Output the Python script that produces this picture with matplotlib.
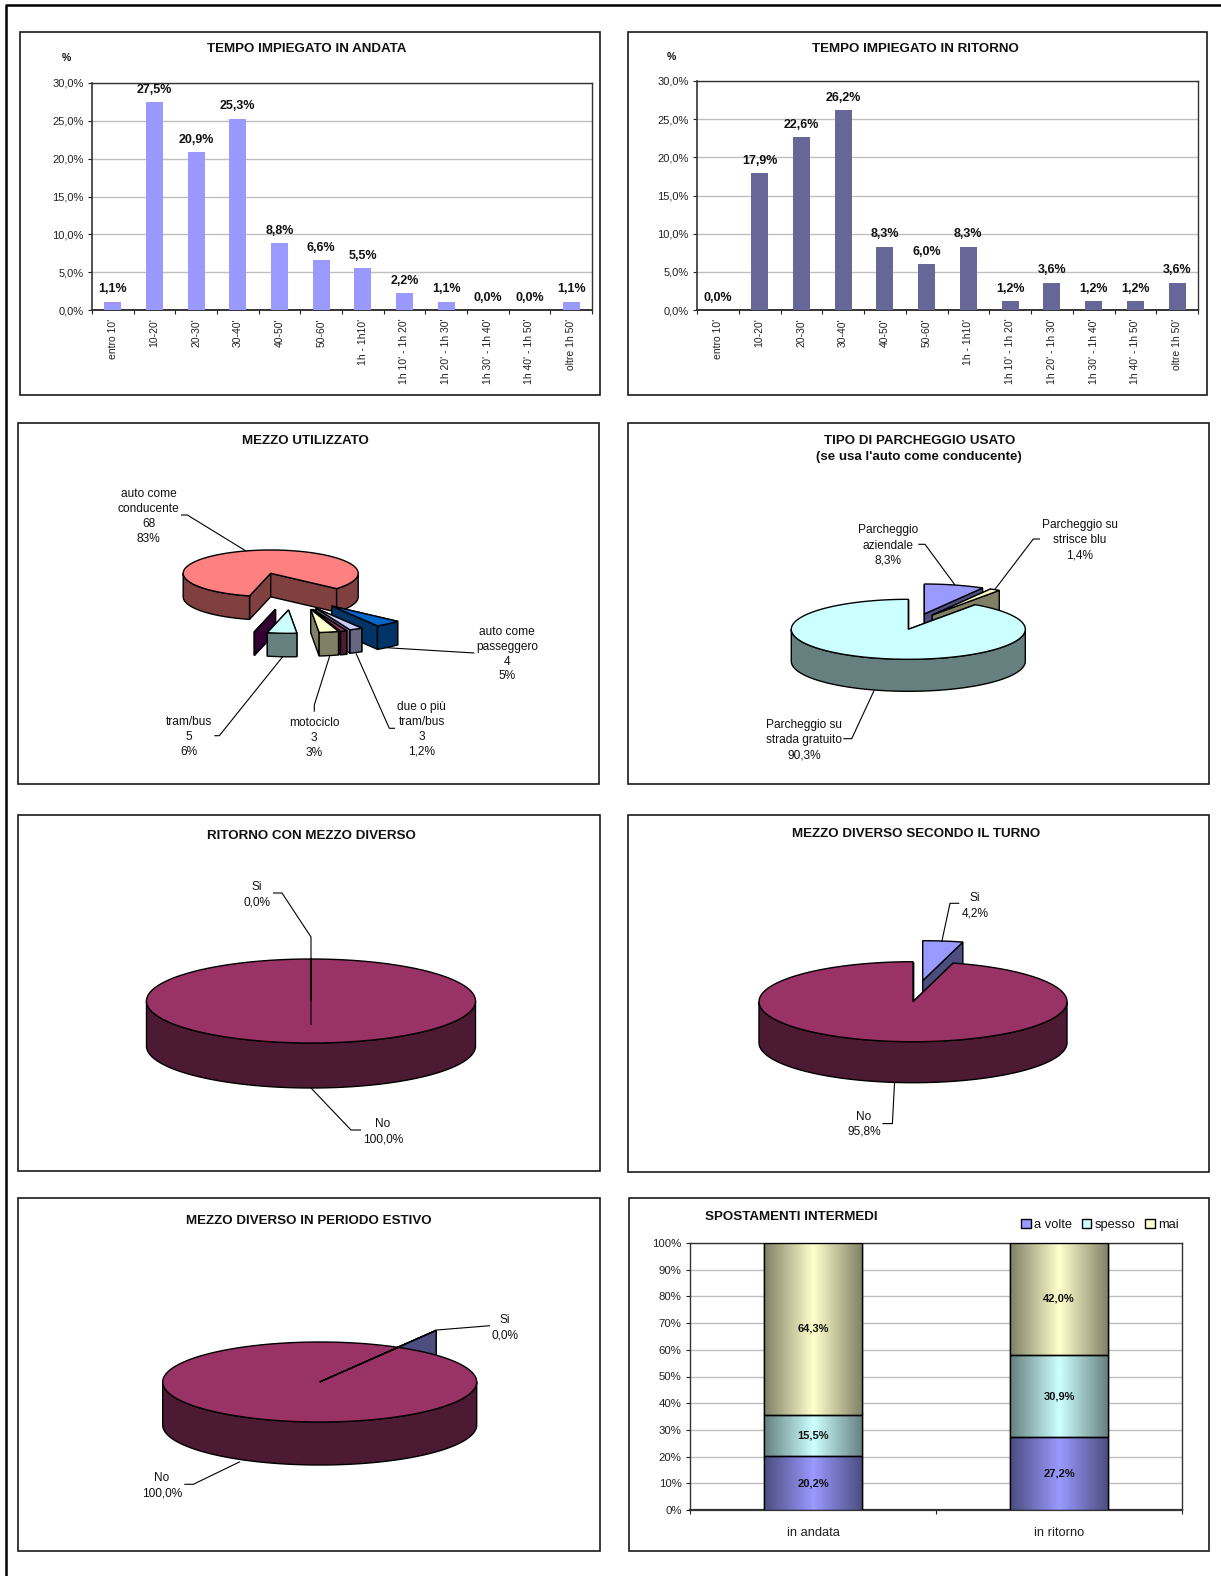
import numpy as np
import matplotlib
matplotlib.use('Agg')
import matplotlib.pyplot as plt
from matplotlib.patches import Polygon, Rectangle

plt.rcParams.update({
    'font.family': ['Liberation Sans', 'DejaVu Sans'],
    'font.size': 8,
    'axes.linewidth': 1.0,
    'axes.edgecolor': '#333333',
    'xtick.color': '#222222',
    'ytick.color': '#222222',
    'text.color': '#111111',
})

W, H = 1221, 1576

# ---- Data ----
TIME_CATS = ["entro 10'", "10-20'", "20-30'", "30-40'", "40-50'", "50-60'", "1h - 1h10'",
             "1h 10' - 1h 20'", "1h 20' - 1h 30'", "1h 30' - 1h 40'", "1h 40' - 1h 50'", "oltre 1h 50'"]
ANDATA = [1.1, 27.5, 20.9, 25.3, 8.8, 6.6, 5.5, 2.2, 1.1, 0.0, 0.0, 1.1]
RITORNO = [0.0, 17.9, 22.6, 26.2, 8.3, 6.0, 8.3, 1.2, 3.6, 1.2, 1.2, 3.6]

# slice sizes as they read off the picture, the printed labels do not quite agree
MEZZO_SLICES = [68.5, 4, 2, 1, 3, 4.5, 0]
PARCHEGGIO_PCT = [8.3, 1.4, 90.3]
RITORNO_DIVERSO = [0.0, 100.0]
TURNO_PCT = [4.2, 95.8]
ESTIVO_PCT = [0.0, 100.0]

STACK_CATS = ['in andata', 'in ritorno']
STACK_NAMES = ['a volte', 'spesso', 'mai']
STACK_A_VOLTE = [20.2, 27.2]
STACK_SPESSO = [15.5, 30.9]
STACK_MAI = [64.3, 42.0]

PERIWINKLE, PLUM, IVORY, AQUA = '#9999FF', '#993366', '#FFFFCC', '#CCFFFF'


def axes_px(x0, y0, x1, y1):
    """Axes placed by picture pixels (y down)."""
    return fig.add_axes([x0 / W, 1 - y1 / H, (x1 - x0) / W, (y1 - y0) / H])


def fmt_pct(v):
    return f"{v:.1f}%".replace('.', ',')


def darker(color):
    return tuple(c * 0.5 for c in matplotlib.colors.to_rgb(color))


def frame(x0, y0, x1, y1):
    canvas.add_patch(Rectangle((x0, y0), x1 - x0, y1 - y0, fc='white', ec='#1a1a1a', lw=1.2))


def label(x, ys, lines, **kw):
    for y, s in zip(ys, lines):
        canvas.text(x, y + 1, s, ha='center', va='center', fontsize=8.6, zorder=8, **kw)


def leader(*pts):
    xs, ys = zip(*pts)
    canvas.plot(xs, ys, color='black', lw=0.8, zorder=7, solid_capstyle='butt')


def time_bars(box, values, color):
    ax = axes_px(*box)
    x = np.arange(len(values))
    ax.bar(x, values, width=0.41, color=color, zorder=3)
    ax.set_xlim(-0.5, len(values) - 0.5)
    ax.set_ylim(0, 30)
    ax.set_yticks(np.arange(0, 31, 5))
    ax.set_yticklabels([fmt_pct(v) for v in np.arange(0, 31, 5)])
    ax.set_xticks(np.arange(-0.5, len(values)))
    ax.set_xticklabels([])
    ax.set_xticks(x, minor=True)
    ax.set_xticklabels(TIME_CATS, minor=True, rotation=90, fontsize=7.5)
    ax.tick_params(axis='x', which='minor', length=0, pad=6)
    ax.tick_params(axis='both', which='major', length=3, width=0.8, labelsize=8, pad=3)
    ax.grid(axis='y', color='#c0c0c0', lw=1, zorder=0)
    ax.set_axisbelow(True)
    ax.spines['bottom'].set_linewidth(1.4)
    ax.spines['left'].set_linewidth(1.2)
    for xi, v in zip(x, values):
        ax.annotate(fmt_pct(v), (xi, v), xytext=(0, 8.8), textcoords='offset points',
                    ha='center', va='center', fontsize=9, fontweight='bold', zorder=6)
    return ax


def pie3d(values, colors, start, cx, cy, rx, ry, depth, offsets, side_colors=None):
    """Tilted pie, slices run clockwise from start (degrees); offsets in pixels."""
    total = float(sum(values))
    sweeps = np.array(values) / total * 360
    ends = start - np.cumsum(sweeps)
    starts = np.r_[start, ends[:-1]]
    order = sorted(range(len(values)), key=lambda i: offsets[i][1])
    for i in order:
        ox, oy = cx + offsets[i][0], cy + offsets[i][1]
        top_col, side_col = colors[i], darker(colors[i])
        if side_colors and side_colors[i]:
            side_col = side_colors[i]
        t = np.radians(np.linspace(starts[i], ends[i], max(int(sweeps[i] * 2), 2)))
        ex, ey = ox + rx * np.cos(t), oy - ry * np.sin(t)
        # radial walls first, the top hides whatever faces away
        for k in (0, -1):
            canvas.add_patch(Polygon([(ox, oy), (ex[k], ey[k]), (ex[k], ey[k] + depth), (ox, oy + depth)],
                                     fc=side_col, ec='black', lw=1, zorder=3))
        front = np.sin(t) <= 0
        edges = np.flatnonzero(np.diff(front.astype(int))) + 1
        for run in np.split(np.arange(len(t)), edges):
            if not front[run[0]] or len(run) < 2:
                continue
            xs, ys = ex[run], ey[run]
            pts = np.r_[np.c_[xs, ys], np.c_[xs[::-1], ys[::-1] + depth]]
            canvas.add_patch(Polygon(pts, fc=side_col, ec='black', lw=1, zorder=3))
        canvas.add_patch(Polygon(np.r_[[(ox, oy)], np.c_[ex, ey]], fc=top_col, ec='black', lw=1, zorder=3))


fig = plt.figure(figsize=(W / 100, H / 100), dpi=100, facecolor='white')
canvas = fig.add_axes([0, 0, 1, 1])
canvas.set_xlim(0, W)
canvas.set_ylim(H, 0)
canvas.axis('off')

# page border and panel frames
canvas.plot([6, 6, W], [H, 5, 5], color='black', lw=1.8)
frame(20, 32, 600, 395)
frame(628, 32, 1207, 395)
frame(18, 423, 599, 784)
frame(628, 423, 1209, 784)
frame(18, 815, 600, 1171)
frame(628, 815, 1209, 1172)
frame(18, 1198, 600, 1551)
frame(629, 1198, 1209, 1551)

# ---- Time bars ----
time_bars((92, 83, 592, 310), ANDATA, PERIWINKLE)
time_bars((697, 81, 1198, 310), RITORNO, '#666699')
for x, y, s in [(307, 49, 'TEMPO IMPIEGATO IN ANDATA'), (915, 49, 'TEMPO IMPIEGATO IN RITORNO'),
                (305, 441, 'MEZZO UTILIZZATO'), (920, 441, 'TIPO DI PARCHEGGIO USATO'),
                (919, 457, "(se usa l'auto come conducente)"), (311, 836, 'RITORNO CON MEZZO DIVERSO'),
                (916, 834, 'MEZZO DIVERSO SECONDO IL TURNO'), (309, 1221, 'MEZZO DIVERSO IN PERIODO ESTIVO'),
                (791, 1217, 'SPOSTAMENTI INTERMEDI')]:
    canvas.text(x, y, s, ha='center', va='center', fontsize=9.6, fontweight='bold', zorder=8)
canvas.text(66, 58, '%', ha='center', va='center', fontsize=7.5, fontweight='bold')
canvas.text(671, 57, '%', ha='center', va='center', fontsize=7.5, fontweight='bold')

# ---- Mezzo utilizzato ----
pie3d(MEZZO_SLICES, ['#FF8080', '#0066CC', '#CCCCFF', PLUM, IVORY, AQUA, '#660066'], 256,
      270.7, 573.3, 87.5, 23.3, 23.5,
      [(0, 0), (61, 32.7), (45.3, 35), (42, 36), (40, 36), (17.8, 36.7), (4.8, 36)])
label(148.7, [492.7, 507.7, 522.7, 537.7], ['auto come', 'conducente', '68', '83%'])
leader((181, 515), (187.3, 515), (246, 551))
label(507.3, [631.3, 646, 660.7, 675], ['auto come', 'passeggero', '4', '5%'])
leader((474.3, 653), (386.7, 647.7))
label(188.7, [720.7, 735.7, 750.7], ['tram/bus', '5', '6%'])
leader((214.3, 735.7), (219.3, 735.7), (282.7, 656.7))
label(314.3, [721.7, 736.7, 751.7], ['motociclo', '3', '3%'])
leader((314.3, 711.7), (314.3, 705), (330, 655))
label(421.7, [706, 720.7, 735.7, 750.7], ['due o più', 'tram/bus', '3', '1,2%'])
leader((395, 728.3), (389.3, 728.3), (356, 653.3))

# ---- Parcheggio ----
pie3d(PARCHEGGIO_PCT, [PERIWINKLE, IVORY, AQUA], 90, 908.3, 629.3, 117, 30, 32,
      [(16, -15.3), (24, -14.3), (0, 0)])
label(887.7, [529, 545, 559.3], ['Parcheggio', 'aziendale', '8,3%'])
leader((918.3, 544.3), (925, 544.3), (955, 585))
label(1080, [524, 539, 554.3], ['Parcheggio su', 'strisce blu', '1,4%'])
leader((1040, 539), (1033.3, 539), (995, 589.3))
label(804.3, [724, 739.3, 754.3], ['Parcheggio su', 'strada gratuito', '90,3%'])
leader((843.3, 738.7), (851.7, 738.7), (874, 690.7))

# ---- Ritorno con mezzo diverso ----
pie3d(RITORNO_DIVERSO, ['#333399', PLUM], 90, 311, 1001, 164.5, 42, 45, [(0, -0.1), (0, 0)])
leader((311, 1025), (311, 937), (282, 893), (273, 893))
leader((311, 1088), (351, 1130), (361, 1130))
label(256.7, [885.7, 901.7], ['Si', '0,0%'])
label(382.7, [1123, 1138], ['No', '100,0%'])

# ---- Mezzo diverso secondo il turno ----
pie3d(TURNO_PCT, [PERIWINKLE, PLUM], 90, 913, 1001.7, 154, 40, 41, [(9.7, -21), (0, 0)])
leader((941.7, 942), (950, 903.3), (959.3, 903.3))
leader((894.5, 1083), (892.4, 1123.6), (882.4, 1123.6))
label(975, [896.7, 912], ['Si', '4,2%'])
label(864, [1115.5, 1130.6], ['No', '95,8%'])

# ---- Mezzo diverso in periodo estivo ----
pie3d(ESTIVO_PCT, ['#333399', PLUM], 60, 319.7, 1382, 157, 40, 43, [(38, -17), (0, 0)],
      side_colors=['#4d4d80', None])
leader((320, 1381.7), (436.7, 1330), (490, 1325.7))
leader((240, 1461.7), (193.3, 1484.3), (184.3, 1484.3))
label(505, [1319, 1334.3], ['Si', '0,0%'])
label(161.7, [1476.7, 1492.3], ['No', '100,0%'])

# ---- Spostamenti intermedi ----
ax = axes_px(690, 1243, 1182, 1510)
pos = np.arange(len(STACK_CATS))
shade = np.r_[np.linspace(0.5, 1, 64), np.linspace(1, 0.5, 64)].reshape(1, -1, 1)
bottom = np.zeros(len(STACK_CATS))
for series, name, color in zip([STACK_A_VOLTE, STACK_SPESSO, STACK_MAI], STACK_NAMES, [PERIWINKLE, AQUA, IVORY]):
    bars = ax.bar(pos, series, width=0.4, bottom=bottom, color=color, edgecolor='black', lw=1, label=name, zorder=3)
    for b, v in zip(bars, series):
        # horizontal shading of each bar, clipped to the bar
        top = min(b.get_y() + b.get_height(), 100)
        ax.imshow(shade * np.array(matplotlib.colors.to_rgb(color)), aspect='auto', zorder=3.5,
                  extent=(b.get_x(), b.get_x() + b.get_width(), b.get_y(), top))
        ax.add_patch(Rectangle((b.get_x(), b.get_y()), b.get_width(), top - b.get_y(),
                               fc='none', ec='black', lw=1, zorder=3.6))
        ax.text(b.get_x() + b.get_width() / 2, (b.get_y() + top) / 2, fmt_pct(v), ha='center', va='center',
                fontsize=8, fontweight='bold', zorder=5)
    bottom += np.array(series)
ax.set_xlim(-0.5, 1.5)
ax.set_ylim(0, 100)
ax.set_yticks(np.arange(0, 101, 10))
ax.set_yticklabels([f'{v}%' for v in range(0, 101, 10)])
ax.set_xticks([-0.5, 0.5, 1.5])
ax.set_xticklabels([])
ax.set_xticks(pos, minor=True)
ax.set_xticklabels(STACK_CATS, minor=True, fontsize=9.3)
ax.tick_params(axis='x', which='minor', length=0, pad=12)
ax.tick_params(axis='both', which='major', length=3, width=0.8, labelsize=8.2, pad=3)
ax.grid(axis='y', color='#c0c0c0', lw=1, zorder=0)
ax.set_axisbelow(True)
ax.spines['bottom'].set_linewidth(1.6)
ax.legend(loc='lower right', bbox_to_anchor=(0.993, 1.045), ncol=3, frameon=False, fontsize=9.3,
          handlelength=0.75, handleheight=0.75, handletextpad=0.25, columnspacing=0.75, borderpad=0, borderaxespad=0)

fig.savefig('out.png', dpi=100)
plt.close(fig)
